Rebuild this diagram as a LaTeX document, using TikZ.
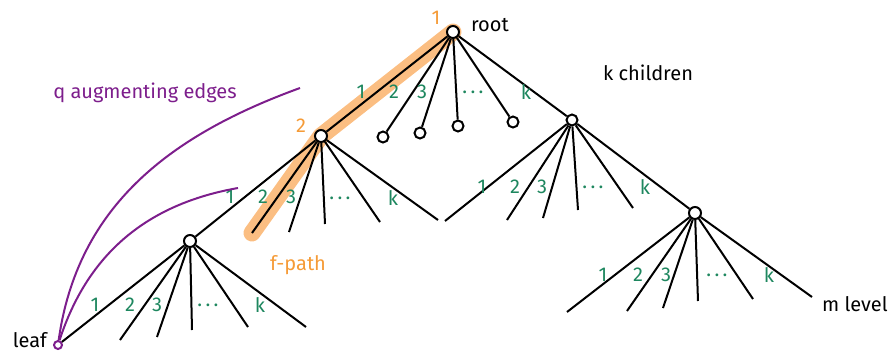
\documentclass[tikz,border=0pt]{standalone}
\usepackage{fontspec}
\setmainfont{Fira Sans}
\usetikzlibrary{backgrounds}
\definecolor{pathorange}{RGB}{251,190,130}
\definecolor{pathtext}{RGB}{245,155,55}
\definecolor{numgreen}{RGB}{30,135,95}
\definecolor{augpurple}{RGB}{125,30,140}

\begin{document}
\begin{tikzpicture}[x=0.5pt, y=-0.5pt, every node/.style={font=\normalsize},
  vtx/.style={circle, draw, line width=1pt, fill=white, inner sep=0pt, minimum size=6pt},
  sml/.style={vtx, minimum size=5.5pt},
  twig/.style={line width=1pt},
  num/.style={text=numgreen, font=\normalsize},
  aug/.style={augpurple, line width=1pt}]
  \useasboundingbox (0,0) rectangle (895,354);
  % Vertices
  \node[vtx] (root) at (453,32) {};
  \node[vtx] (n2) at (321,136) {};
  \node[sml] (r2) at (383,137) {};
  \node[sml] (r3) at (420,133) {};
  \node[sml] (r4) at (458,126) {};
  \node[sml] (r5) at (513,122) {};
  \node[sml] (rk) at (572,120) {};
  \node[vtx] (a1) at (190,241) {};
  \node[vtx] (bk) at (695,213) {};
  \node[circle, draw=augpurple, line width=1pt, fill=white, inner sep=0pt, minimum size=4pt] (leaf) at (58,345) {};
  % Free ends of the twigs
  \coordinate (a2) at (252,233); \coordinate (a3) at (289,232); \coordinate (a4) at (325,224);
  \coordinate (a5) at (380,222); \coordinate (a6) at (438,220);
  \coordinate (b1) at (445,221); \coordinate (b2) at (507,220); \coordinate (b3) at (543,218);
  \coordinate (b4) at (578,210); \coordinate (b5) at (633,208);
  \coordinate (c1) at (567,312); \coordinate (c2) at (627,311); \coordinate (c3) at (663,308);
  \coordinate (c4) at (698,301); \coordinate (c5) at (753,299); \coordinate (c6) at (812,297);
  \coordinate (d2) at (120,340); \coordinate (d3) at (157,337); \coordinate (d4) at (192,330);
  \coordinate (d5) at (248,327); \coordinate (d6) at (306,327);
  \coordinate (augA) at (300,88); \coordinate (augB) at (238,188);
  % f-path highlight
  \begin{scope}[on background layer]
    \draw[pathorange, line width=8.5pt, line cap=round, line join=round]
      (root.center) -- (n2.center) -- (a2);
  \end{scope}
  % Twigs
  \foreach \c in {n2,r2,r3,r4,r5,rk} \draw[twig] (root) -- (\c);
  \foreach \c in {a1,a2,a3,a4,a5,a6} \draw[twig] (n2) -- (\c);
  \foreach \c in {b1,b2,b3,b4,b5,bk} \draw[twig] (rk) -- (\c);
  \foreach \c in {c1,c2,c3,c4,c5,c6} \draw[twig] (bk) -- (\c);
  \foreach \c in {leaf,d2,d3,d4,d5,d6} \draw[twig] (a1) -- (\c);
  % Child numbers
  \foreach \x/\y/\t in {361/92/1, 394/92/2, 422/92/3, 473/92/{.\,.\,.}, 526/92/k,
                        230/197/1, 263/197/2, 291/197/3, 340/198/{.\,.\,.}, 393/198/k,
                        482/187/1, 515/187/2, 542/187/3, 593/187/{.\,.\,.}, 645/187/k,
                        603/275/1, 638/275/2, 666/275/3, 717/275/{.\,.\,.}, 769/275/k,
                        95/305/1, 130/305/2, 157/305/3, 208/305/{.\,.\,.}, 260/305/k}
    \node[num] at (\x,\y) {\t};
  % Augmenting edges
  \draw[aug] (leaf) to[out=82, in=200] (augA);
  \draw[aug] (leaf) to[out=72, in=190] (augB);
  % Labels
  \node[anchor=west] (rootlbl) at (464,25) {root};
  \node[anchor=east] (leaflbl) at (54,340) {leaf};
  \node[anchor=west] (mlbl) at (815,304) {m level};
  \node (klbl) at (648,73) {k children};
  \node[augpurple] (qlbl) at (145,93) {q augmenting edges};
  \node[pathtext] (fpathlbl) at (298,265) {f-path};
  \node[pathtext] (one) at (436,18) {1};
  \node[pathtext] (two) at (301,126) {2};
\end{tikzpicture}
\end{document}
